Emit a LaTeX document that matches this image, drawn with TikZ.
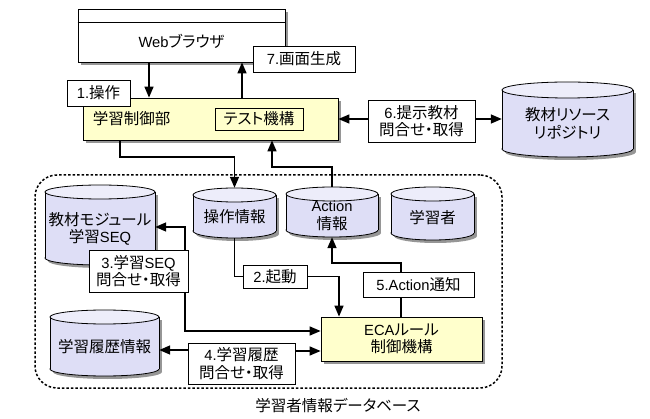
\documentclass[tikz,border=0pt]{standalone}
\usepackage{fontspec}
\setmainfont[RawFeature={+palt}]{Noto Sans CJK JP}
\newfontfamily\latf[Scale=0.95]{Liberation Sans}
\newcommand\lt[1]{{\latf #1}}
\usetikzlibrary{arrows.meta,shadows}
\definecolor{ylw}{RGB}{255,255,204}
\definecolor{cylc}{RGB}{222,222,246}
\definecolor{shd}{RGB}{150,150,150}
\tikzset{
  every node/.style={font=\fontsize{15.5}{17.5}\selectfont, inner sep=0pt, align=center},
  box/.style={draw=black, line width=0.8pt, fill=white},
  shbox/.style={box, drop shadow={shadow xshift=3pt, shadow yshift=-3pt, fill=shd, opacity=1}},
  lbl/.style={box},
  arr/.style={line width=1.5pt, -{Triangle[length=11pt,width=9pt]}},
  biarr/.style={line width=1.5pt, {Triangle[length=11pt,width=9pt]}-{Triangle[length=11pt,width=9pt]}},
  conn/.style={line width=1.5pt},
  dbline/.style={draw=black, line width=1.5pt, dash pattern=on 2.5pt off 2pt, rounded corners=22pt},
}
\newcommand\mycyl[7]{%
  \pgfmathsetmacro\cylcx{(#2+#4)/2}%
  \pgfmathsetmacro\cylrx{(#4-#2)/2}%
  \pgfmathsetmacro\cylcy{(#3+#5)/2}%
  \fill[shd] ({#2+3},{#3+#6+3}) rectangle ({#4+3},{#5-#6+3});
  \fill[shd] ({\cylcx+3},{#5-#6+3}) ellipse[x radius=\cylrx, y radius=#6];
  \filldraw[fill=cylc, draw=black, line width=0.8pt] (\cylcx,{#5-#6}) ellipse[x radius=\cylrx, y radius=#6];
  \fill[cylc] (#2,{#3+#6}) rectangle (#4,{#5-#6});
  \draw[line width=0.8pt] (#2,{#3+#6}) -- (#2,{#5-#6}) (#4,{#3+#6}) -- (#4,{#5-#6});
  \filldraw[fill=cylc!55!white, draw=black, line width=0.8pt] (\cylcx,{#3+#6}) ellipse[x radius=\cylrx, y radius=#6];
  \node[minimum width={#4-#2}, minimum height={#5-#3}] (#1) at (\cylcx,\cylcy) {};
  \node at ([yshift=-4pt]#1.center) {#7};
}
\begin{document}
\begin{tikzpicture}[x=1pt,y=-1pt]
\useasboundingbox (0,0) rectangle (650,419);
% helper coordinates
\coordinate (x120) at (120,0);
\coordinate (x149) at (149,0);
\coordinate (x185) at (185,0);
\coordinate (x242) at (242,0);
\coordinate (x272) at (272,0);
\coordinate (x339) at (339,0);
\coordinate (x401) at (401,0);
\coordinate (y119) at (0,119);
\coordinate (y157) at (0,157);
\coordinate (y167) at (0,167);
\coordinate (y227) at (0,227);
\coordinate (y263) at (0,263);
\coordinate (y331) at (0,331);
\coordinate (y350) at (0,350);
\coordinate (y351) at (0,351);

% database region
\node[dbline, minimum width=467, minimum height=213] (db) at (268.5,281.5) {};
\node (dbtext) at (338,406) {学習者情報データベース};

% main boxes
\node[shbox, minimum width=207, minimum height=53] (browser) at (181.5,35.5) {};
\draw[line width=0.8pt] ([yshift=-14pt]browser.north west) -- ([yshift=-14pt]browser.north east);
\node (browsertext) at (181.5,41.5) {\lt{Web}ブラウザ};

\node[shbox, fill=ylw, minimum width=255, minimum height=42] (ctrl) at (210.5,119) {};
\node[anchor=west] (ctrltext) at ([xshift=10pt]ctrl.west) {学習制御部};
\node[box, fill=ylw, minimum width=88, minimum height=22] (test) at (259,119) {テスト機構};

\node[shbox, fill=ylw, minimum width=161, minimum height=44] (eca) at (401.5,339) {\lt{ECA}ルール\\制御機構};

% cylinders
\mycyl{repo}{502}{82}{633}{157}{8}{教材リソース\\リポジトリ}
\mycyl{kyozai}{45}{185}{155}{265}{7}{教材モジュール\\学習\lt{SEQ}}
\mycyl{sousa}{193}{188}{276}{238}{7}{操作情報}
\mycyl{action}{286}{187}{378}{237}{7}{\lt{Action}\\情報}
\mycyl{gakusha}{391}{187}{474}{240}{7}{学習者}
\mycyl{rireki}{50}{310}{159}{376}{7}{学習履歴情報}

% labels (positions)
\path (304,59) node[lbl, minimum width=102, minimum height=26] (lab7) {\lt{7.}画面生成};
\path (98.5,93) node[lbl, minimum width=63, minimum height=26] (lab1) {\lt{1.}操作};
\path (421.5,121) node[lbl, minimum width=107, minimum height=42] (lab6) {\lt{6.}提示教材\\問合せ・取得};
\path (138.5,271) node[lbl, minimum width=99, minimum height=42] (lab3) {\lt{3.}学習\lt{SEQ}\\問合せ・取得};
\path (275,276.5) node[lbl, minimum width=64, minimum height=23] (lab2) {\lt{2.}起動};
\path (418.5,284.5) node[lbl, minimum width=111, minimum height=25] (lab5) {\lt{5.Action}通知};
\path (241.5,363.5) node[lbl, minimum width=107, minimum height=41] (lab4) {\lt{4.}学習履歴\\問合せ・取得};

% connectors
\draw[arr] (browser.south -| x149) -- (ctrl.north -| x149);
\draw[arr] (ctrl.north -| x242) -- (browser.south -| x242);
\draw[arr] (lab6.west |- y119) -- (ctrl.east |- y119);
\draw[arr] (lab6.east |- y119) -- (repo.west |- y119);
\draw[arr] (ctrl.south -| x120) |- (sousa.north |- y157) -- (sousa.north);
\draw[arr] (action.north) |- (x272 |- y167) -- (ctrl.south -| x272);
\draw[conn] (sousa.south) |- (lab2.west);
\draw[arr] (lab2.east) -| (eca.north -| x339);
\draw[conn] (eca.north -| x401) -- (lab5.south -| x401);
\draw[arr] (lab5.north -| x401) |- (action.south |- y263) -- (action.south);
\draw[biarr] (kyozai.east |- y227) -| (x185 |- y331) -- (eca.west |- y331);
\draw[arr] (lab4.west |- y350) -- (rireki.east |- y350);
\draw[arr] (lab4.east |- y351) -- (eca.west |- y351);

% redraw labels on top of connectors
\node[lbl, minimum width=102, minimum height=26] at (lab7) {\lt{7.}画面生成};
\node[lbl, minimum width=63, minimum height=26] at (lab1) {\lt{1.}操作};
\node[lbl, minimum width=99, minimum height=42] at (lab3) {\lt{3.}学習\lt{SEQ}\\問合せ・取得};
\end{tikzpicture}
\end{document}
